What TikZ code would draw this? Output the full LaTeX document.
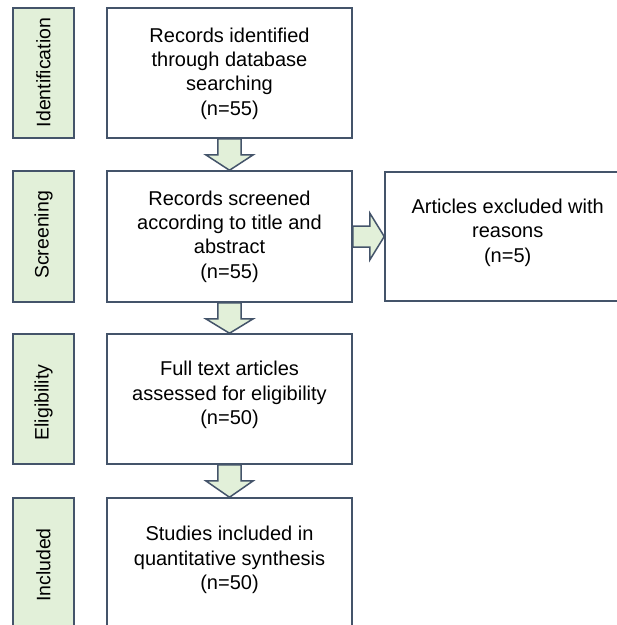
\documentclass[tikz,border=0pt]{standalone}
\usepackage{fontspec}
\setmainfont{Liberation Sans}
\usetikzlibrary{calc}
\definecolor{edgec}{HTML}{44546A}
\definecolor{greenc}{HTML}{E2F0D9}
\begin{document}
\begin{tikzpicture}[x=1pt,y=-1pt,
  stage/.style={draw=edgec,fill=greenc,line width=1.5pt,minimum width=61pt,inner sep=0pt},
  stagetxt/.style={rotate=90,font=\fontsize{19.5}{23}\selectfont,inner sep=0pt},
  mainbox/.style={draw=edgec,fill=white,line width=1.5pt,minimum width=245pt,inner sep=0pt},
  boxtxt/.style={align=center,font=\fontsize{20}{24.3}\selectfont,inner sep=0pt},
  blk/.style={draw=edgec,fill=greenc,line width=1.5pt,line join=miter}]
\useasboundingbox (0,0) rectangle (617,625);
\clip (0,0) rectangle (617,625);
\fill[white] (0,0) rectangle (617,625);
% stage boxes
\node[stage,minimum height=130pt] (s1) at (43.5,73) {};
\node[stage,minimum height=131pt] (s2) at (43.5,236.5) {};
\node[stage,minimum height=130pt] (s3) at (43.5,399) {};
\node[stage,minimum height=134pt] (s4) at (43.5,565) {};
\node[stagetxt] (l1) at (43.5,72.5) {Identification};
\node[stagetxt] (l2) at (43.5,235) {Screening};
\node[stagetxt] (l3) at (43.5,402.5) {Eligibility};
\node[stagetxt] (l4) at (43.5,565) {Included};
% main boxes
\node[mainbox,minimum height=130pt] (b1) at (229.5,73) {};
\node[mainbox,minimum height=131pt] (b2) at (229.5,236.5) {};
\node[mainbox,minimum height=130pt] (b3) at (229.5,399) {};
\node[mainbox,minimum height=134pt] (b4) at (229.5,565) {};
\node[mainbox,minimum height=129pt] (r2) at (507.5,236.5) {};
\node[boxtxt] (t1) at (229.5,73.5) {Records identified\\through database\\searching\\(n=55)};
\node[boxtxt] (t2) at (229.5,236.5) {Records screened\\according to title and\\abstract\\(n=55)};
\node[boxtxt] (t3) at (229.5,395) {Full text articles\\assessed for eligibility\\(n=50)};
\node[boxtxt] (t4) at (229.5,560) {Studies included in\\quantitative synthesis\\(n=50)};
\node[boxtxt] (tr) at (507.7,232.7) {Articles excluded with\\reasons\\(n=5)};
% block arrows down
\foreach \a/\b in {b1/b2,b2/b3,b3/b4}{
  \draw[blk] ($(\a.south)+(-11.7,0)$) -- ($(\a.south)+(11.7,0)$) -- ($(\a.south)+(11.7,16)$)
    -- ($(\a.south)+(23.8,16)$) -- (\b.north) -- ($(\a.south)+(-23.8,16)$)
    -- ($(\a.south)+(-11.7,16)$) -- cycle;
}
% block arrow right
\draw[blk] ($(b2.east)+(0,-10.5)$) -- ($(b2.east)+(17,-10.5)$) -- ($(b2.east)+(17,-23.5)$)
  -- (r2.west) -- ($(b2.east)+(17,23.5)$) -- ($(b2.east)+(17,10.5)$)
  -- ($(b2.east)+(0,10.5)$) -- cycle;
\end{tikzpicture}
\end{document}
